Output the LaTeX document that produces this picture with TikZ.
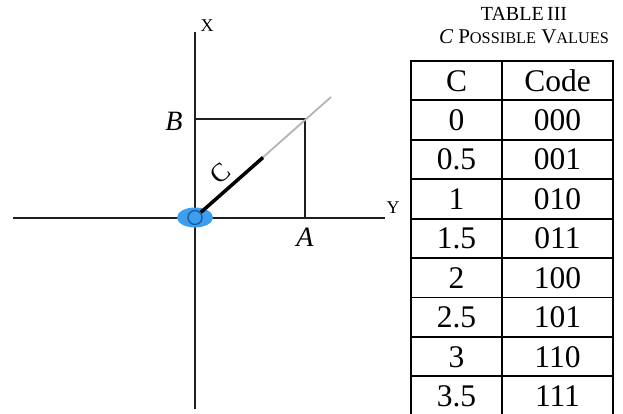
\documentclass[tikz,border=0pt]{standalone}
\usepackage{fontspec}
\setmainfont{Liberation Serif}
\usetikzlibrary{positioning}
\definecolor{eyeblue}{HTML}{3C9EEC}
\definecolor{ringblue}{HTML}{1F5C9E}
\definecolor{raygray}{HTML}{B4B4B4}
\newcommand{\cellfont}{\fontsize{31.5}{31.5}\selectfont}
\newcommand{\capsfont}{\fontsize{16.3}{16.3}\selectfont}
\begin{document}
\begin{tikzpicture}[x=1pt, y=-1pt,
    axis/.style={line width=2pt, black!88},
    grid/.style={line width=1.8pt, black},
    lbl/.style={inner sep=0pt, font=\fontsize{18}{18}\selectfont},
    pt/.style={inner sep=0pt, font=\fontsize{28}{28}\selectfont\itshape},
    cell/.style={inner sep=0pt, text height=21pt, text depth=0pt, font=\cellfont},
]
    \useasboundingbox (0,0) rectangle (623,414);
    % axes and projections
    \coordinate (O) at (195,217.5);
    \coordinate (Xtop) at (195,32);
    \coordinate (Xbot) at (195,409);
    \coordinate (Yleft) at (13,217.5);
    \coordinate (Yright) at (385,217.5);
    \coordinate (P) at (305,119);
    \coordinate (Bfoot) at (195,119);
    \coordinate (Afoot) at (305,217.5);
    \coordinate (Cend) at (263,157.5);
    \coordinate (Rend) at (331,97);

    \draw[axis] (Xtop) -- (Xbot);
    \draw[axis] (Yleft) -- (Yright);
    \draw[axis] (Bfoot) -- (P) -- (Afoot);

    \fill[eyeblue] (O) ellipse [x radius=18pt, y radius=10pt];
    \node[circle, draw=ringblue, line width=1.4pt, minimum size=14pt, inner sep=0pt] (ring) at (O) {};
    \draw[line width=1.8pt, raygray] (ring) -- (Rend);
    \draw[line width=3.5pt, black] (ring) -- (Cend);

    \node[lbl] (xl) at (207,26) {X};
    \node[lbl] (yl) at (393,208) {Y};
    \node[pt] (bl) at (174,121) {B};
    \node[pt] (al) at (305,237) {A};
    \node[inner sep=0pt, font=\fontsize{26}{26}\selectfont, rotate=41.5] (cl) at (220,173) {C};

    % table
    \node[inner sep=0pt, font=\fontsize{20}{20}\selectfont] (ttl) at (524,14) {TABLE\,III};
    \node[inner sep=0pt, font=\fontsize{21}{21}\selectfont] (sub) at (524,37)
        {{\itshape C} P{\capsfont OSSIBLE} V{\capsfont ALUES}};

    \draw[grid] (411,420) -- (411,61) -- (613,61) -- (613,420);
    \draw[grid] (502,61) -- (502,420);
    \foreach \k in {0,...,7}
        \draw[grid] (411,{100.4+39.4*\k}) -- (613,{100.4+39.4*\k});

    \node[cell] (hc) at (456.5,80.7) {C};
    \node[cell] (hk) at (557.5,80.7) {Code};
    \foreach \c/\code [count=\i from 0] in {0/000, 0.5/001, 1/010, 1.5/011, 2/100, 2.5/101, 3/110, 3.5/111} {
        \node[cell] (c\i) at (456.5,{120.1+39.4*\i}) {\c};
        \node[cell] (k\i) at (557.5,{120.1+39.4*\i}) {\code};
    }
\end{tikzpicture}
\end{document}
